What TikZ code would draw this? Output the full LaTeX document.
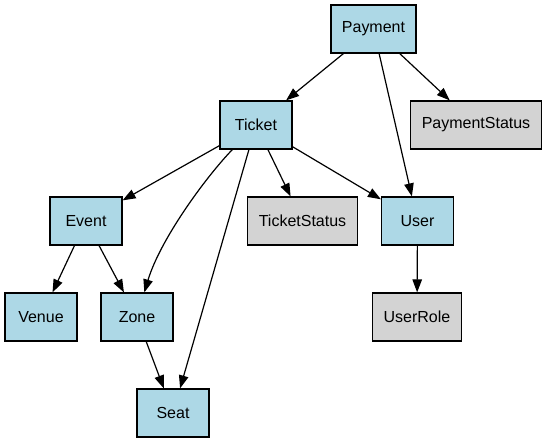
\documentclass[tikz,border=0pt]{standalone}
\usepackage{fontspec}
\setmainfont{Liberation Sans}
\usepackage{tikz}
\usetikzlibrary{arrows.meta, positioning}
\definecolor{eblue}{HTML}{ADD8E6}
\definecolor{egray}{HTML}{D3D3D3}
\tikzset{
  entbox/.style={draw=black, fill=eblue, line width=1.2pt,
                 minimum width=72pt, minimum height=48pt, inner xsep=11pt,
                 font=\fontsize{16}{19}\selectfont},
  enumbox/.style={entbox, fill=egray},
  edge/.style={-{Triangle[length=13pt, width=9.5pt]}, line width=1.2pt, black},
}
\begin{document}
\begin{tikzpicture}[x=1pt, y=-1pt]

  \useasboundingbox (0,0) rectangle (547,443);

  %% ═══════════ Entities ═══════════
  \node[entbox] (payment) at (373.5, 29) {Payment};
  \node[entbox] (ticket)  at (256, 125) {Ticket};
  \node[entbox] (event)   at (86, 221) {Event};
  \node[entbox] (user)    at (417.5, 221) {User};
  \node[entbox] (venue)   at (41, 317) {Venue};
  \node[entbox] (zone)    at (137, 317) {Zone};
  \node[entbox] (seat)    at (173, 413) {Seat};

  %% ═══════════ Enums ═══════════
  \node[enumbox] (paystatus)    at (476, 125) {PaymentStatus};
  \node[enumbox] (ticketstatus) at (302.5, 221) {TicketStatus};
  \node[enumbox] (userrole)     at (417, 317) {UserRole};

  %% ═══════════ Relations ═══════════
  \draw[edge] (payment) -- (ticket);
  \draw[edge] (payment) -- (paystatus);
  \draw[edge] (payment) -- (user);

  \draw[edge] (ticket) -- (event);
  \draw[edge] (ticket) .. controls (205,178) and (160,240) .. (zone);
  \draw[edge] (ticket) -- (seat);
  \draw[edge] (ticket) -- (ticketstatus);
  \draw[edge] (ticket) -- (user);

  \draw[edge] (event) -- (venue);
  \draw[edge] (event) -- (zone);
  \draw[edge] (zone) -- (seat);
  \draw[edge] (user) -- (userrole);

\end{tikzpicture}
\end{document}
